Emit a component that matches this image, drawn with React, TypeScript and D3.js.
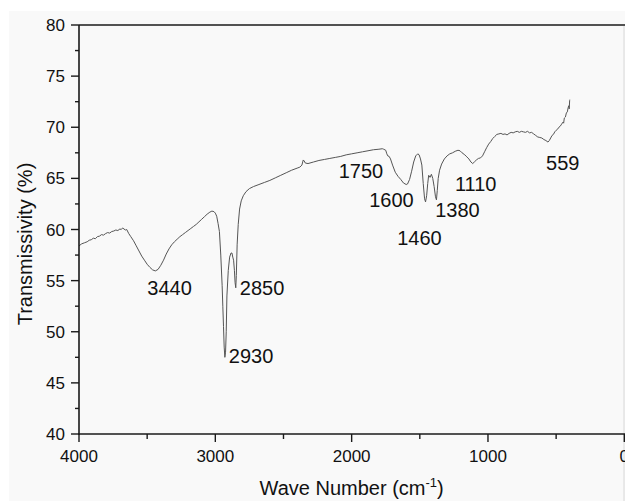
import React from "react";
import * as d3 from "d3";

const waveNumbers: number[] = [
  4000, 3980, 3960, 3940, 3925, 3910, 3895, 3880, 3865, 3850, 3835, 3820, 3805, 3790, 3775, 3760, 3745, 3730, 3715, 3700,
  3690, 3680, 3670, 3660, 3650, 3635, 3620, 3600, 3580, 3560, 3540, 3520, 3500, 3480, 3460, 3440, 3420, 3400, 3380, 3360,
  3340, 3320, 3300, 3280, 3260, 3240, 3220, 3200, 3180, 3160, 3140, 3120, 3100, 3080, 3060, 3040, 3025, 3010, 3000, 2990,
  2980, 2970, 2960, 2950, 2945, 2940, 2935, 2930, 2925, 2920, 2915, 2905, 2895, 2885, 2878, 2872, 2866, 2860, 2855, 2850,
  2846, 2840, 2832, 2822, 2810, 2795, 2775, 2750, 2720, 2680, 2640, 2600, 2560, 2520, 2480, 2440, 2400, 2380, 2365, 2355,
  2348, 2340, 2320, 2280, 2240, 2200, 2160, 2120, 2080, 2040, 2000, 1960, 1920, 1880, 1840, 1800, 1775, 1765, 1750, 1742,
  1735, 1725, 1715, 1700, 1680, 1660, 1640, 1620, 1600, 1590, 1575, 1560, 1545, 1530, 1515, 1505, 1495, 1485, 1475, 1465,
  1458, 1450, 1442, 1435, 1425, 1415, 1405, 1395, 1385, 1378, 1372, 1365, 1355, 1340, 1320, 1300, 1280, 1260, 1240, 1220,
  1205, 1190, 1170, 1155, 1140, 1125, 1112, 1100, 1085, 1070, 1055, 1040, 1025, 1010, 995, 980, 965, 950, 935, 920,
  905, 890, 875, 860, 845, 830, 815, 800, 785, 770, 755, 740, 725, 710, 695, 680, 665, 650, 635, 620,
  605, 590, 575, 560, 550, 540, 530, 520, 510, 500, 490, 480, 470, 460, 450, 445, 440, 432, 425, 418,
  412, 408, 404, 401, 400,
];

const transmissivity: number[] = [
  58.4, 58.6, 58.7, 58.8, 58.95, 59.0, 59.15, 59.1, 59.3, 59.35, 59.5, 59.45, 59.6, 59.7, 59.65, 59.8, 59.85, 59.95, 59.9, 60.05,
  60.0, 60.15, 60.05, 59.95, 60.0, 59.6, 59.3, 58.9, 58.4, 57.9, 57.4, 57.0, 56.6, 56.3, 56.05, 55.95, 56.1, 56.5, 57.0, 57.6,
  58.1, 58.5, 58.8, 59.05, 59.3, 59.5, 59.7, 59.9, 60.1, 60.3, 60.5, 60.75, 61.0, 61.25, 61.5, 61.7, 61.8, 61.75, 61.6, 61.3,
  60.6, 59.8, 57.5, 54.5, 52.5, 50.5, 48.5, 47.5, 48.0, 50.0, 53.5, 56.0, 57.3, 57.7, 57.7, 57.3, 57.0, 56.0, 54.8, 54.3,
  55.5, 58.5, 60.5, 62.0, 62.8, 63.3, 63.7, 64.0, 64.2, 64.4, 64.6, 64.8, 65.05, 65.3, 65.55, 65.8, 66.0, 66.1, 66.3, 66.8,
  66.7, 66.5, 66.45, 66.6, 66.75, 66.85, 66.95, 67.05, 67.15, 67.3, 67.4, 67.5, 67.6, 67.7, 67.8, 67.85, 67.9, 67.85, 67.75, 67.4,
  67.2, 67.15, 66.9, 66.3, 65.6, 65.2, 64.9, 64.55, 64.4, 64.45, 64.9, 65.7, 66.6, 67.2, 67.4, 67.3, 66.9, 66.3, 64.5, 63.0,
  62.7, 63.3, 64.5, 65.3, 65.1, 65.4, 65.0, 64.2, 63.2, 62.9, 63.8, 65.0, 65.8, 66.4, 66.9, 67.2, 67.4, 67.5, 67.65, 67.75,
  67.7, 67.5, 67.3, 67.1, 66.9, 66.6, 66.45, 66.6, 66.8, 66.95, 67.0, 67.2, 67.6, 68.0, 68.35, 68.6, 68.9, 69.1, 69.3, 69.35,
  69.4, 69.3, 69.35, 69.25, 69.4, 69.5, 69.45, 69.55, 69.6, 69.5, 69.6, 69.55, 69.5, 69.6, 69.45, 69.5, 69.35, 69.2, 69.05, 69.0,
  68.95, 68.8, 68.7, 68.55, 68.7, 68.95, 69.2, 69.3, 69.55, 69.7, 69.8, 70.0, 70.1, 70.3, 70.5, 70.4, 70.9, 71.0, 71.4, 71.5,
  71.9, 72.1, 71.8, 72.6, 72.7,
];

const yMajorTicks: number[] = [40, 45, 50, 55, 60, 65, 70, 75, 80];
const yMinorTicks: number[] = [42.5, 47.5, 52.5, 57.5, 62.5, 67.5, 72.5, 77.5];
const xMajorTicks: number[] = [4000, 3000, 2000, 1000, 0];
const xMinorTicks: number[] = [3500, 2500, 1500, 500];

const peakLabels: string[] = ["3440", "2930", "2850", "1750", "1600", "1460", "1380", "1110", "559"];
const peakLabelX: number[] = [3440, 2930, 2850, 1750, 1600, 1460, 1380, 1110, 559];
const peakLabelY: number[] = [53.6, 46.95, 53.6, 65.0, 62.2, 58.5, 61.2, 63.8, 65.8];
const peakLabelDx: number[] = [-8, 4, 4, -47, -37, -28, -1, -18, -2];

export default function App() {
  const W = 625;
  const H = 501;
  const left = 79;
  const top = 25;
  const right = 624.3;
  const bottom = 434;

  const x = d3.scaleLinear().domain([4000, 0]).range([left, right]);
  const y = d3.scaleLinear().domain([40, 80]).range([bottom, top]);

  const pts: [number, number][] = waveNumbers.map((w, i) => [w, transmissivity[i]]);
  const line = d3
    .line<[number, number]>()
    .x((d) => x(d[0]))
    .y((d) => y(d[1]))
    .curve(d3.curveLinear);

  const axisColor = "#1a1a1a";
  const font = "Arial, 'Liberation Sans', sans-serif";

  return (
    <svg
      width={W}
      height={H}
      style={{ position: "absolute", left: 0, top: 0, display: "block" }}
      xmlns="http://www.w3.org/2000/svg"
    >
      <rect x={0} y={0} width={W} height={H} fill="#ffffff" />
      <rect x={9} y={11} width={W - 9} height={H - 11} fill="#f9f9f9" />
      <line x1={624} x2={624} y1={26} y2={H} stroke="#d8d8d8" strokeWidth={1} />

      <path d={line(pts) || ""} fill="none" stroke="#555555" strokeWidth={1} strokeLinejoin="round" />

      {/* frame */}
      <line x1={left} x2={W} y1={top} y2={top} stroke={axisColor} strokeWidth={1.6} />
      <line x1={left} x2={left} y1={top} y2={bottom + 0.8} stroke={axisColor} strokeWidth={1.6} />
      <line x1={left - 0.8} x2={W} y1={bottom} y2={bottom} stroke={axisColor} strokeWidth={1.6} />

      {/* y ticks */}
      {yMajorTicks.map((t) => (
        <g key={"ym" + t}>
          <line x1={left - 8} x2={left} y1={y(t)} y2={y(t)} stroke={axisColor} strokeWidth={1.4} />
          <text
            x={65}
            y={y(t)}
            dy="0.36em"
            textAnchor="end"
            fontFamily={font}
            fontSize={17}
            fill="#111"
          >
            {t}
          </text>
        </g>
      ))}
      {yMinorTicks.map((t) => (
        <line key={"yn" + t} x1={left - 4} x2={left} y1={y(t)} y2={y(t)} stroke={axisColor} strokeWidth={1.4} />
      ))}

      {/* x ticks */}
      {xMajorTicks.map((t) => (
        <g key={"xm" + t}>
          <line x1={x(t)} x2={x(t)} y1={bottom} y2={bottom + 8} stroke={axisColor} strokeWidth={1.4} />
          <text x={x(t)} y={462} textAnchor="middle" fontFamily={font} fontSize={17} fill="#111">
            {t}
          </text>
        </g>
      ))}
      {xMinorTicks.map((t) => (
        <line key={"xn" + t} x1={x(t)} x2={x(t)} y1={bottom} y2={bottom + 5} stroke={axisColor} strokeWidth={1.4} />
      ))}

      {/* peak labels */}
      {peakLabels.map((lab, i) => (
        <text
          key={"pl" + lab}
          x={x(peakLabelX[i]) + peakLabelDx[i]}
          y={y(peakLabelY[i])}
          fontFamily={font}
          fontSize={20}
          fill="#111"
        >
          {lab}
        </text>
      ))}

      {/* axis titles */}
      <text
        transform={`translate(32, 244) rotate(-90)`}
        textAnchor="middle"
        fontFamily={font}
        fontSize={20}
        fill="#111"
      >
        Transmissivity (%)
      </text>
      <text x={x(2000)} y={495} textAnchor="middle" fontFamily={font} fontSize={20} fill="#111">
        Wave Number (cm
        <tspan fontSize={13} dy={-8}>
          -1
        </tspan>
        <tspan dy={8}>)</tspan>
      </text>
    </svg>
  );
}
